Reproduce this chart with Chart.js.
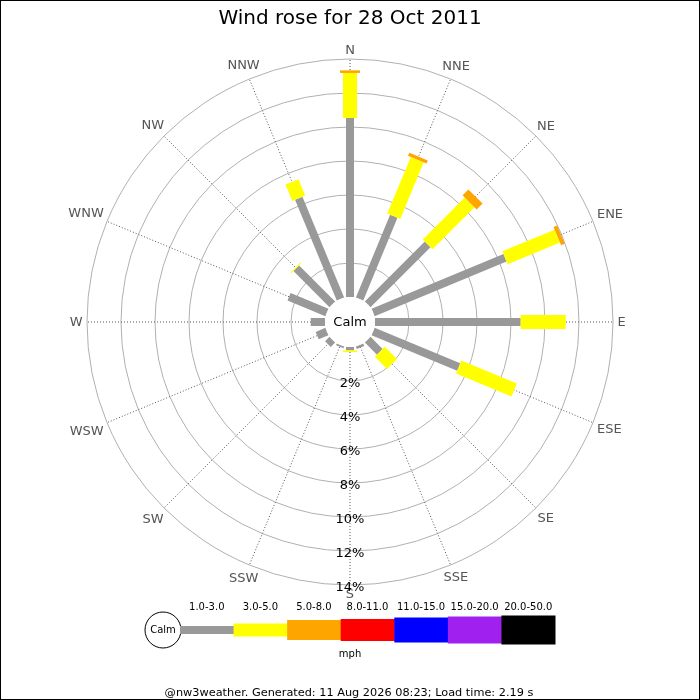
<!DOCTYPE html>
<html>
<head>
<meta charset="utf-8">
<script src="https://cdn.jsdelivr.net/npm/chart.js@4/dist/chart.umd.min.js"></script>
<style>
html,body{margin:0;padding:0;background:#fff;}
#wrap{width:700px;height:700px;position:relative;}
canvas{display:block;}
</style>
</head>
<body>
<div id="wrap"><canvas id="rose" width="700" height="700"></canvas></div>
<script>
// ---- data ----
const directions = ['N','NNE','NE','ENE','E','ESE','SE','SSE','S','SSW','SW','WSW','W','WNW','NW','NNW'];
const speedBands = ['1.0-3.0','3.0-5.0','5.0-8.0','8.0-11.0','11.0-15.0','15.0-20.0','20.0-50.0'];
const bandColors = ['#999999','#ffff00','#ffa500','#ff0000','#0000ff','#a020f0','#000000'];
// percentage of time per direction, per speed band (mph)
const band1to3   = [10.53, 5.26, 4.99, 8.40, 8.57, 5.45, 1.01, 0.15, 0.20, 0.10, 0.37, 0.62, 0.84, 2.41, 3.00, 6.41];
const band3to5   = [ 2.65, 3.61, 3.49, 3.33, 2.65, 3.53, 1.02, 0.00, 0.10, 0.00, 0.00, 0.00, 0.00, 0.00, 0.06, 1.04];
const band5to8   = [ 0.15, 0.19, 0.49, 0.23, 0.00, 0.00, 0.00, 0.00, 0.00, 0.00, 0.00, 0.00, 0.00, 0.00, 0.00, 0.00];
const band8to11  = [ 0, 0, 0, 0, 0, 0, 0, 0, 0, 0, 0, 0, 0, 0, 0, 0];
const band11to15 = [ 0, 0, 0, 0, 0, 0, 0, 0, 0, 0, 0, 0, 0, 0, 0, 0];
const band15to20 = [ 0, 0, 0, 0, 0, 0, 0, 0, 0, 0, 0, 0, 0, 0, 0, 0];
const band20to50 = [ 0, 0, 0, 0, 0, 0, 0, 0, 0, 0, 0, 0, 0, 0, 0, 0];
const tickValues = [2, 4, 6, 8, 10, 12, 14];
const titleText = 'Wind rose for 28 Oct 2011';
const unitText = 'mph';
const calmText = 'Calm';
const footerText = '@nw3weather. Generated: 11 Aug 2026 08:23; Load time: 2.19 s';

// ---- styling ----
const FONT = "'DejaVu Sans', 'Liberation Sans', sans-serif";
const bandWidths = [8, 14, 20, 23, 25, 27, 29];
const legendHeights = [8, 13, 20, 22, 25, 27, 29];
const calmHole = 1.47;   // radial offset of the calm disc, in % units

const bandSeries = [band1to3, band3to5, band5to8, band8to11, band11to15, band15to20, band20to50];

const windBars = {
  id: 'windBars',
  beforeDatasetsDraw(chart) {
    const s = chart.scales.r;
    const ctx = chart.ctx;
    ctx.save();
    ctx.textAlign = 'center';
    ctx.textBaseline = 'middle';
    // compass labels, centred just outside the outer ring
    ctx.font = '13px ' + FONT;
    ctx.fillStyle = '#555555';
    const outer = s.getDistanceFromCenterForValue(s.max);
    s._pointLabels.forEach((lab, i) => {
      const a = s.getIndexAngle(i);
      const w = ctx.measureText(lab).width;
      const ext = Math.abs(Math.sin(a)) * w / 2 + Math.abs(Math.cos(a)) * 4.8;
      const p = s.getPointPosition(i, outer + 4.5 + ext);
      ctx.fillText(lab, p.x, p.y + 0.5);
    });
    // tick labels along the S axis
    ctx.fillStyle = '#000';
    tickValues.forEach(v => {
      const d = s.getDistanceFromCenterForValue(v);
      ctx.fillText(v + '%', s.xCenter, s.yCenter + d + 2.5);
    });
    ctx.restore();
  },
  afterDatasetsDraw(chart) {
    const s = chart.scales.r;
    const ctx = chart.ctx;
    ctx.save();
    ctx.lineCap = 'butt';
    directions.forEach((dir, i) => {
      let cum = 0;
      chart.data.datasets.forEach((ds, b) => {
        const v = ds.data[i];
        if (!v) return;
        const p0 = s.getPointPosition(i, s.getDistanceFromCenterForValue(cum));
        const p1 = s.getPointPosition(i, s.getDistanceFromCenterForValue(cum + v));
        ctx.strokeStyle = bandColors[b];
        ctx.lineWidth = bandWidths[b];
        ctx.beginPath();
        ctx.moveTo(p0.x, p0.y);
        ctx.lineTo(p1.x, p1.y);
        ctx.stroke();
        cum += v;
      });
    });
    // calm disc
    const rc = s.getDistanceFromCenterForValue(0);
    ctx.fillStyle = '#fff';
    ctx.beginPath();
    ctx.arc(s.xCenter, s.yCenter, rc, 0, Math.PI * 2);
    ctx.fill();
    ctx.fillStyle = '#000';
    ctx.font = '13px ' + FONT;
    ctx.textAlign = 'center';
    ctx.textBaseline = 'middle';
    ctx.fillText(calmText, s.xCenter, s.yCenter + 1);
    ctx.restore();
  },
  afterDraw(chart) {
    const ctx = chart.ctx;
    ctx.save();
    // legend
    const ly = 630, lx0 = 180, lx1 = 555;
    const segW = (lx1 - lx0) / speedBands.length;
    ctx.strokeStyle = '#000';
    ctx.lineWidth = 1;
    ctx.fillStyle = '#fff';
    ctx.beginPath();
    ctx.arc(163, ly, 18, 0, Math.PI * 2);
    ctx.fill();
    ctx.stroke();
    ctx.fillStyle = '#000';
    ctx.font = '10px ' + FONT;
    ctx.textAlign = 'center';
    ctx.textBaseline = 'middle';
    ctx.fillText(calmText, 163, ly);
    speedBands.forEach((lab, b) => {
      const x = lx0 + b * segW;
      const h = legendHeights[b];
      ctx.fillStyle = bandColors[b];
      ctx.fillRect(x, ly - h / 2, segW + 0.5, h);
      ctx.fillStyle = '#000';
      ctx.fillText(lab, x + segW / 2, 607);
    });
    ctx.fillText(unitText, 350, 654);
    ctx.font = '11.3px ' + FONT;
    ctx.fillText(footerText, 349, 693);
    // frame
    ctx.strokeStyle = '#000';
    ctx.lineWidth = 2;
    ctx.strokeRect(0, 0, 700, 700);
    ctx.restore();
  }
};

new Chart(document.getElementById('rose'), {
  type: 'radar',
  data: {
    labels: directions,
    datasets: speedBands.map((lab, b) => ({
      label: lab + ' ' + unitText,
      data: bandSeries[b],
      borderWidth: 0,
      borderColor: 'rgba(0,0,0,0)',
      backgroundColor: 'rgba(0,0,0,0)',
      pointRadius: 0,
      pointHoverRadius: 0,
      fill: false
    }))
  },
  options: {
    responsive: false,
    animation: false,
    devicePixelRatio: 1,
    layout: { padding: { top: 0, left: 0, right: 0, bottom: 115 } },
    plugins: {
      legend: { display: false },
      tooltip: { enabled: false },
      title: {
        display: true,
        text: titleText,
        color: '#000',
        font: { family: FONT, size: 20, weight: 'normal' },
        padding: { top: 7, bottom: 28 }
      }
    },
    scales: {
      r: {
        min: -calmHole,
        max: 14,
        ticks: { display: false, stepSize: 2 },
        afterBuildTicks: (scale) => {
          scale.ticks = tickValues.map(v => ({ value: v }));
        },
        grid: { circular: true, color: '#b0b0b0', lineWidth: 1 },
        angleLines: { display: true, color: '#555555', lineWidth: 1, borderDash: [1, 2] },
        pointLabels: { display: false }
      }
    }
  },
  plugins: [windBars]
});
</script>
</body>
</html>
